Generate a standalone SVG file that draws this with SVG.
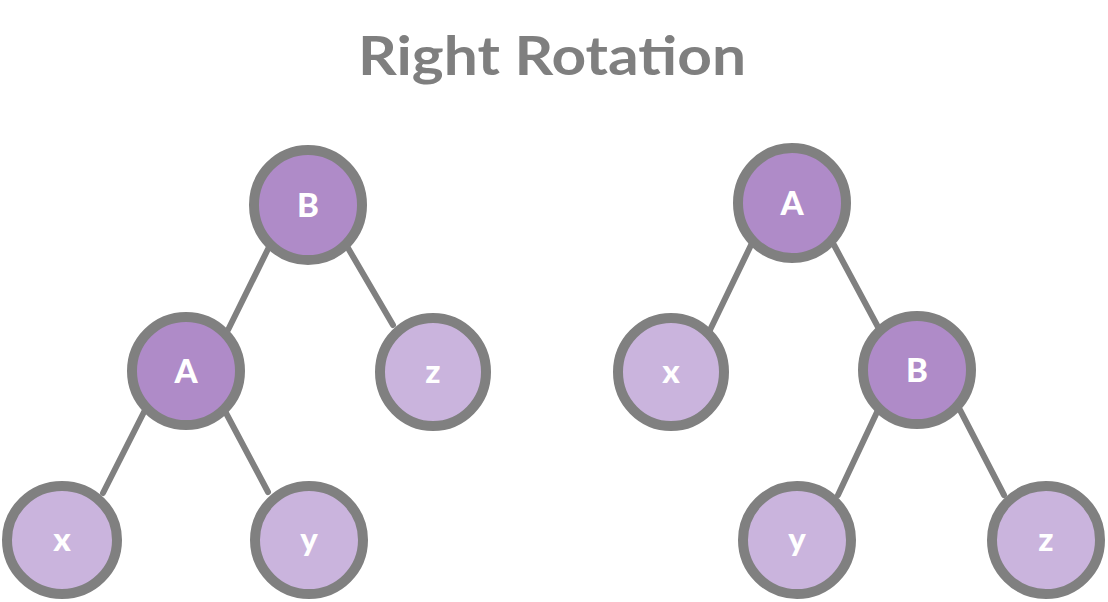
<svg xmlns="http://www.w3.org/2000/svg" width="1108" height="602" viewBox="0 0 1108 602">
<style>
.edge{stroke:#808080;stroke-width:6;stroke-linecap:round;fill:none}
.n{stroke:#808080;stroke-width:10}
.dark{fill:#af8bc8}
.light{fill:#cab4dd}
.lbl{font-family:"Comic Sans MS","Lato","Liberation Sans",sans-serif;font-weight:900;font-size:33px;fill:#ffffff;text-anchor:middle;dominant-baseline:central}
.title{font-family:"Comic Sans MS","Lato","Liberation Sans",sans-serif;font-weight:bold;font-size:54px;fill:#7f7f7f;text-anchor:middle}
</style>
<rect width="1108" height="602" fill="#ffffff"/>
<text class="title" x="552" y="75" textLength="388" lengthAdjust="spacingAndGlyphs">Right Rotation</text>
<g id="connectors">
<line class="edge" x1="270" y1="245" x2="228" y2="330"/>
<line class="edge" x1="348" y1="248" x2="393" y2="325"/>
<line class="edge" x1="145" y1="410" x2="103" y2="493"/>
<line class="edge" x1="226" y1="413" x2="268" y2="492"/>
<line class="edge" x1="752" y1="243" x2="710" y2="330"/>
<line class="edge" x1="834" y1="245" x2="878" y2="327"/>
<line class="edge" x1="878" y1="410" x2="838" y2="495"/>
<line class="edge" x1="960" y1="410" x2="1004" y2="495"/>
</g>
<g id="L-B"><ellipse class="n dark" cx="308" cy="205" rx="54" ry="55"/><text class="lbl" x="308" y="204">B</text></g>
<g id="L-A"><ellipse class="n dark" cx="186" cy="371" rx="54" ry="54"/><text class="lbl" x="186" y="370">A</text></g>
<g id="L-z"><ellipse class="n light" cx="433" cy="372" rx="53" ry="54"/><text class="lbl" x="433" y="370">z</text></g>
<g id="L-x"><ellipse class="n light" cx="62" cy="540" rx="55" ry="54"/><text class="lbl" x="62" y="538">x</text></g>
<g id="L-y"><ellipse class="n light" cx="309" cy="540" rx="54" ry="54"/><text class="lbl" x="309" y="538">y</text></g>
<g id="R-A"><ellipse class="n dark" cx="792" cy="203" rx="54" ry="55"/><text class="lbl" x="792" y="202">A</text></g>
<g id="R-x"><ellipse class="n light" cx="671" cy="372" rx="53" ry="54"/><text class="lbl" x="671" y="370">x</text></g>
<g id="R-B"><ellipse class="n dark" cx="917" cy="370" rx="54" ry="54"/><text class="lbl" x="917" y="369">B</text></g>
<g id="R-y"><ellipse class="n light" cx="797" cy="540" rx="54" ry="54"/><text class="lbl" x="797" y="538">y</text></g>
<g id="R-z"><ellipse class="n light" cx="1046" cy="540" rx="54" ry="54"/><text class="lbl" x="1046" y="538">z</text></g>
</svg>
